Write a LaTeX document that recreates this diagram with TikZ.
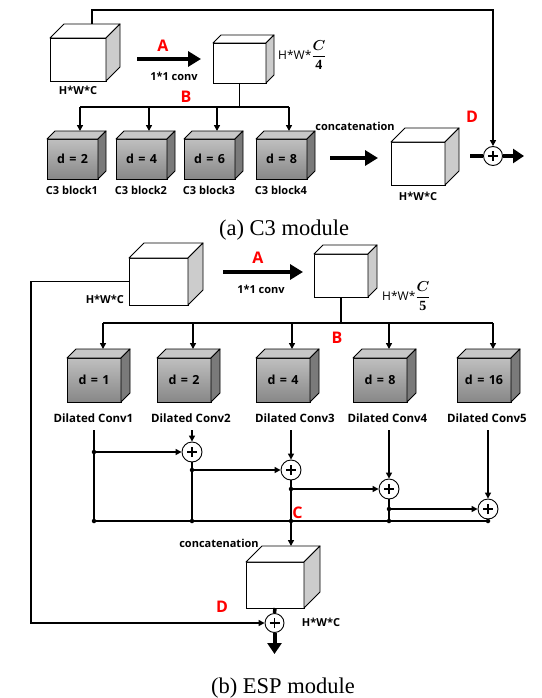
\documentclass[tikz,border=0pt]{standalone}
\usepackage{fontspec}
\usepackage{amsmath,bm}
\setmainfont{Liberation Serif}
\newfontfamily\lblfont{Open Sans}
\usetikzlibrary{arrows.meta}
\newcommand{\cubeparts}[4]{%
  \draw[line width=0.9pt, fill=#3, line join=round] (#1.north west) -- ++(#2,-#2) -- ([shift={(#2,-#2)}]#1.north east) -- (#1.north east) -- cycle;
  \draw[line width=0.9pt, fill=#4, line join=round] (#1.north east) -- ++(#2,-#2) -- ([shift={(#2,-#2)}]#1.south east) -- (#1.south east) -- cycle;
}
\newcommand{\fracsz}{\fontsize{14}{16}\selectfont}
\tikzset{
  lbl/.style={font=\lblfont\bfseries\fontsize{11}{13}\selectfont, inner sep=0},
  lblw/.style={font=\lblfont\bfseries\fontsize{11.5}{13}\selectfont, inner sep=0},
  lblr/.style={font=\lblfont\fontsize{12}{14}\selectfont, inner sep=0},
  redlbl/.style={font=\lblfont\bfseries\fontsize{16}{18}\selectfont, text=red, inner sep=0},
  captxt/.style={font=\fontsize{22.5}{26}\selectfont, inner sep=0},
  wface/.style={draw, line width=0.9pt, fill=white, inner sep=0, outer sep=0, anchor=north west},
  gface/.style={draw, line width=0.9pt, top color=black!25, bottom color=black!47, inner sep=0, outer sep=0, anchor=north west, font=\lblfont\bfseries\fontsize{12.5}{14}\selectfont},
  wire/.style={line width=1.8pt},
  fwire/.style={line width=1.5pt},
  arr/.style={-{Triangle[length=6pt,width=6pt]}},
  bigarr/.style={line width=4.5pt, -{Triangle[length=13pt,width=15pt]}},
  plus/.style={circle, draw, line width=0.9pt, fill=white, minimum size=19pt, inner sep=0,
    path picture={
      \draw[line width=1.3pt] ([xshift=-5pt]path picture bounding box.center) -- ([xshift=5pt]path picture bounding box.center);
      \draw[line width=1.3pt] ([yshift=-5pt]path picture bounding box.center) -- ([yshift=5pt]path picture bounding box.center);}},
  dot/.style={circle, fill, inner sep=0, minimum size=4.5pt}
}
\begin{document}
\begin{tikzpicture}[x=1pt,y=-1pt]
\useasboundingbox[fill=white] (0,0) rectangle (541,698);

% ================= (a) C3 module =================
\node[wface, minimum width=56pt, minimum height=43pt] (ain) at (50,38) {};
\cubeparts{ain}{14}{white}{black!20}
\node[lbl] at (78,90) {H*W*C};

\coordinate (aA1) at (137,59);
\coordinate (aA2) at (201,59);
\draw[bigarr] (aA1) -- (aA2);
\node[redlbl] at (163,46) {A};
\node[lbl] at (174,76) {1*1 conv};

\node[wface, minimum width=53pt, minimum height=40pt] (ac2) at (213,43) {};
\cubeparts{ac2}{8}{white}{black!20}
\node[lblr, anchor=west] at (278,55) {H*W*{\fracsz$\displaystyle\frac{\bm{C}}{\mathbf{4}}$}};

\foreach \i/\x/\d in {1/47/2, 2/116/4, 3/184/6, 4/256/8} {
  \node[gface, minimum width=51pt, minimum height=40pt] (ab\i) at (\x,139) {d\hspace{0.35em}=\hspace{0.35em}\d};
  \cubeparts{ab\i}{8}{black!22}{black!52}
  \node[lbl] at ([shift={(-0.5,11)}]ab\i.south) {C3 block\i};
}
\coordinate (abus) at (239.5,107);
\draw[wire] (ac2.south) -- (abus);
\coordinate (abusL) at ([shift={(7.5,0)}]ab1.north |- abus);
\coordinate (abusR) at ([shift={(7.5,0)}]ab4.north |- abus);
\draw[wire] (abusL) -- (abusR);
\foreach \i in {1,...,4} {
  \draw[fwire, arr] ([shift={(7.5,0)}]ab\i.north |- abus) -- ([shift={(7.5,-8)}]ab\i.north);
}
\node[redlbl] at (186,97) {B};

\node[lbl] at (355,126) {concatenation};
\coordinate (aC1) at (330,158);
\coordinate (aC2) at (378,158);
\draw[bigarr] (aC1) -- (aC2);

\node[wface, minimum width=54pt, minimum height=43pt] (ac3) at (391,142) {};
\cubeparts{ac3}{14}{white}{black!20}
\node[lbl] at (418,196) {H*W*C};
\node[redlbl] at (472,117) {D};

\node[plus] (pa) at (493,156) {};
\coordinate (astub) at (470,156);
\draw[line width=4pt] (astub) -- (pa.west);
\coordinate (aout) at (524,156);
\draw[line width=4pt, -{Triangle[length=11pt,width=14pt]}] (pa.east) -- (aout);

\coordinate (askip0) at (92,24);
\coordinate (askip1) at (92,10);
\draw[wire, arr] (askip0) -- (askip1) -| (pa.north);

\node[captxt] at (284,230) {(a) C3 module};

% ================= (b) ESP module =================
\node[wface, minimum width=59pt, minimum height=47pt] (bin) at (129,258) {};
\cubeparts{bin}{15}{white}{black!20}
\node[lbl, anchor=east] at (124,299) {H*W*C};

\coordinate (bA1) at (223,272);
\coordinate (bA2) at (303,272);
\draw[bigarr] (bA1) -- (bA2);
\node[redlbl] at (258,258) {A};
\node[lbl] at (261,289) {1*1 conv};

\node[wface, minimum width=54pt, minimum height=43pt] (bc2) at (314,254) {};
\cubeparts{bc2}{9}{white}{black!20}
\node[lblr, anchor=west] at (382,296) {H*W*{\fracsz$\displaystyle\frac{\bm{C}}{\mathbf{5}}$}};

\foreach \i/\x/\d/\lx in {1/67/1/93.5, 2/157/2/191, 3/256/4/295, 4/353/8/387.5, 5/457/16/487} {
  \node[gface, minimum width=54pt, minimum height=44pt] (bb\i) at (\x,358) {d\hspace{0.35em}=\hspace{0.35em}\d};
  \cubeparts{bb\i}{9}{black!22}{black!52}
  \node[lblw] (bl\i) at (\lx,418) {Dilated Conv\i};
}
\coordinate (bbus) at (341,323);
\draw[wire] (bc2.south) -- (bbus);
\draw[wire] ([shift={(9,0)}]bb1.north |- bbus) -- ([shift={(9,0)}]bb5.north |- bbus);
\foreach \i in {1,...,5} {
  \draw[fwire, arr] ([shift={(9,0)}]bb\i.north |- bbus) -- ([shift={(9,-9)}]bb\i.north);
}
\node[redlbl] at (337,338) {B};

% hierarchical feature fusion
\node[plus, minimum size=20pt] (p1) at (192,452) {};
\node[plus, minimum size=20pt] (p2) at (291,470) {};
\node[plus, minimum size=20pt] (p3) at (389,489) {};
\node[plus, minimum size=20pt] (p4) at (488,509) {};

\coordinate (t1) at (94,430);
\coordinate (t2) at (192,430);
\coordinate (t3) at (291,430);
\coordinate (t4) at (389,430);
\coordinate (t5) at (488,430);

\node[dot] (d1a) at (94,452) {};
\node[dot] (d1b) at (94,521) {};
\node[dot] (d2a) at (192,470) {};
\node[dot] (d2b) at (192,521) {};
\node[dot] (d3a) at (291,489) {};
\node[dot] (d3b) at (291,521) {};
\node[dot] (d4a) at (389,509) {};
\node[dot] (d4b) at (389,521) {};
\node[dot] (d5b) at (488,521) {};

\draw[fwire] (t1) -- (d1b.center);
\draw[fwire, arr] (d1a.center) -- (p1.west);
\draw[fwire, arr] (t2) -- (p1.north);
\draw[fwire] (p1.south) -- (d2b.center);
\draw[fwire, arr] (d2a.center) -- (p2.west);
\draw[fwire, arr] (t3) -- (p2.north);
\draw[fwire, arr] (d3a.center) -- (p3.west);
\draw[fwire, arr] (t4) -- (p3.north);
\draw[fwire] (p3.south) -- (d4b.center);
\draw[fwire, arr] (d4a.center) -- (p4.west);
\draw[fwire, arr] (t5) -- (p4.north);
\draw[fwire] (p4.south) -- (d5b.center);
\draw[fwire] (d1b.center) -- (d5b.center);
\node[redlbl] at (297.5,513) {C};

\node[wface, minimum width=58pt, minimum height=46pt] (bc3) at (246,562) {};
\cubeparts{bc3}{16}{white}{black!20}
\coordinate (bc3in) at (291,546);
\draw[fwire, arr] (p2.south) -- (bc3in);
\node[lbl] at (219,543) {concatenation};

\node[plus] (pb) at (274.5,623) {};
\draw[line width=3.5pt] (bc3.south) -- (pb.north);
\coordinate (bout) at (274.5,654);
\draw[line width=4pt, -{Triangle[length=11pt,width=14pt]}] (pb.south) -- (bout);
\node[lbl] at (321,622) {H*W*C};
\node[redlbl] at (222,607) {D};

\coordinate (bl0) at (31,281.5);
\draw[wire, arr] (bin.west) -- (bl0) |- (pb.west);

\node[captxt] at (283,688) {(b) ESP module};
\end{tikzpicture}
\end{document}
